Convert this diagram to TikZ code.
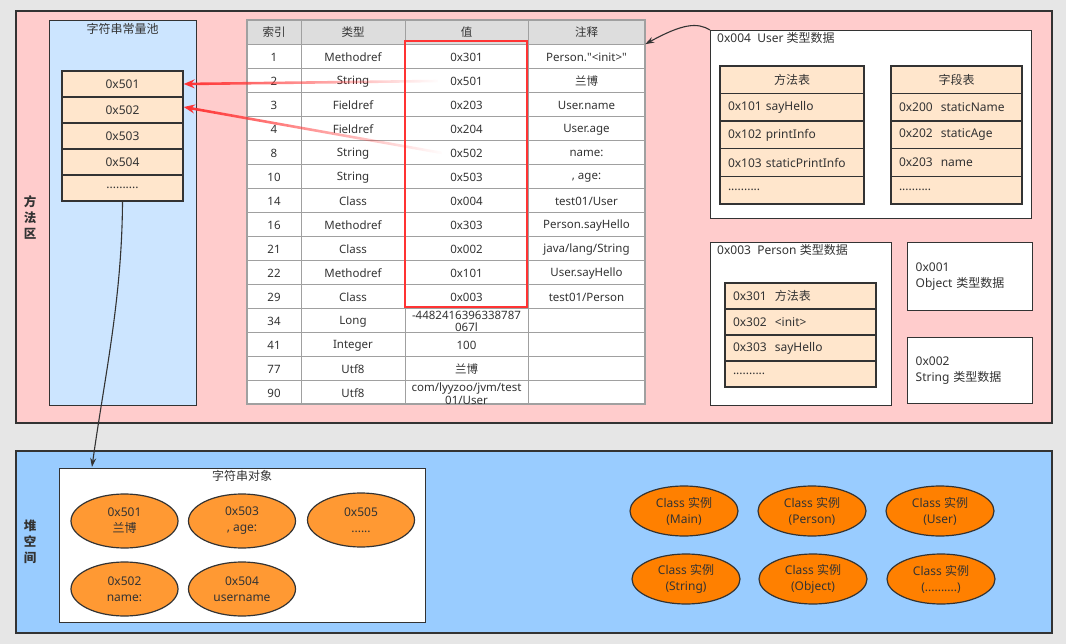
\documentclass[tikz,border=0pt]{standalone}
\usepackage{fontspec}
\setmainfont{Noto Sans}
\newfontfamily\cjkf{Noto Sans CJK SC}
\newcommand\zh[1]{{\cjkf #1}}
\usetikzlibrary{shapes.geometric,arrows.meta,fadings}
\definecolor{bgc}{HTML}{E6E6E6}
\definecolor{pinkc}{HTML}{FFCCCC}
\definecolor{poolc}{HTML}{CCE5FF}
\definecolor{cellc}{HTML}{FFE6CC}
\definecolor{heapc}{HTML}{99CCFF}
\definecolor{orA}{HTML}{FF9933}
\definecolor{orB}{HTML}{FF8000}
\definecolor{dk}{HTML}{333333}
\definecolor{txt}{HTML}{333333}
\definecolor{tgrid}{HTML}{A0A0A0}
\definecolor{thead}{HTML}{DDDDDD}
\definecolor{redc}{HTML}{FF3333}
\newcommand\trow[5]{%
  \node[tt] (t#1a) at (274,{33.5+24*#1}) {#2};
  \node[tt] (t#1b) at (353,{33.5+24*#1}) {#3};
  \node[tt] (t#1c) at (466.5,{33.5+24*#1}) {#4};
  \node[tt] (t#1d) at (586.5,{33.5+24*#1}) {#5};}
\tikzfading[name=redfade, left color=transparent!0, middle color=transparent!0, right color=transparent!100]
\begin{document}
\begin{tikzpicture}[x=1pt,y=-1pt,
  every node/.style={text=txt, inner sep=0pt},
  f12/.style={font=\fontsize{12}{16}\selectfont},
  region/.style={draw=dk, line width=1.6pt, anchor=north west},
  wbox/.style={draw=dk, line width=1.4pt, fill=white, anchor=north west},
  poolcell/.style={draw=dk, line width=1.4pt, fill=cellc, minimum width=121, minimum height=26, f12},
  lcell/.style={draw=dk, line width=1.4pt, fill=cellc, minimum height=27.6, inner xsep=8pt, align=left, f12},
  pcell/.style={draw=dk, line width=1.4pt, fill=cellc, minimum width=151, minimum height=26, inner xsep=8pt, text width=135, align=left, f12},
  tt/.style={font=\fontsize{11.5}{12.5}\selectfont, align=center},
  vlab/.style={align=center, font=\fontsize{12.5}{16}\selectfont\cjkf\bfseries},
  sobj/.style={ellipse, draw=dk, line width=1.2pt, fill=orA, minimum width=107, minimum height=54, align=center, f12},
  cobj/.style={ellipse, draw=dk, line width=1.2pt, fill=orB, minimum width=108, minimum height=50, align=center, f12},
  blk/.style={draw=dk, line width=1.1pt, -{Stealth[length=9pt,width=6pt]}},
  redarr/.style={draw=redc, line width=2.6pt, -{Stealth[length=11pt,width=9pt]}}
]
\fill[bgc] (0,0) rectangle (1066,644);
\useasboundingbox (0,0) rectangle (1066,644);

% ---------- method area ----------
\node[region, fill=pinkc, minimum width=1036, minimum height=412] (ma) at (15,10) {};
\node[vlab] (malab) at (30,217) {方\\法\\区};

% string pool
\node[region, fill=poolc, line width=1.4pt, minimum width=147, minimum height=385] (pool) at (49,20) {};
\node[f12] (pooltitle) at (122.5,29) {\zh{字符串常量池}};
\node[poolcell] (p1) at (122.5,84) {0x501};
\node[poolcell] (p2) at (122.5,110) {0x502};
\node[poolcell] (p3) at (122.5,136) {0x503};
\node[poolcell] (p4) at (122.5,162) {0x504};
\node[poolcell] (p5) at (122.5,188) {..........};

% constant table
\fill[white] (247,20) rectangle (645,404);
\fill[thead] (247,20) rectangle (645,44);
\foreach \k in {1,...,15} \draw[tgrid, line width=0.8pt] (247,{20+24*\k}) -- (645,{20+24*\k});
\foreach \xx in {301,405,528} \draw[tgrid, line width=0.8pt] (\xx,20) -- (\xx,404);
\draw[tgrid, line width=1.6pt] (247,20) rectangle (645,404);
\node[tt, minimum width=54, minimum height=24] (h1) at (274,32) {\zh{索引}};
\node[tt, minimum width=104, minimum height=24] (h2) at (353,32) {\zh{类型}};
\node[tt, minimum width=123, minimum height=24] (h3) at (466.5,32) {\zh{值}};
\node[tt, minimum width=117, minimum height=24] (h4) at (586.5,32) {\zh{注释}};
\trow{1}{1}{Methodref}{0x301}{Person.\textquotedbl<init>\textquotedbl}
\trow{2}{2}{String}{0x501}{\zh{兰博}}
\trow{3}{3}{Fieldref}{0x203}{User.name}
\trow{4}{4}{Fieldref}{0x204}{User.age}
\trow{5}{8}{String}{0x502}{name:}
\trow{6}{10}{String}{0x503}{, age:}
\trow{7}{14}{Class}{0x004}{test01/User}
\trow{8}{16}{Methodref}{0x303}{Person.sayHello}
\trow{9}{21}{Class}{0x002}{java/lang/String}
\trow{10}{22}{Methodref}{0x101}{User.sayHello}
\trow{11}{29}{Class}{0x003}{test01/Person}
\trow{12}{34}{Long}{-4482416396338787\\067l}{}
\trow{13}{41}{Integer}{100}{}
\trow{14}{77}{Utf8}{\zh{兰博}}{}
\trow{15}{90}{Utf8}{com/lyyzoo/jvm/test\\01/User}{}
\draw[redc, line width=2.6pt] (405,41) rectangle (527,307);

% User type data
\node[wbox, minimum width=321, minimum height=188] (user) at (710,30) {};
\node[f12, anchor=west] (usertitle) at (717,38) {0x004\ \ User \zh{类型数据}};
\node[lcell, minimum width=144, text width=128, align=center] (um0) at (792,79.8) {\zh{方法表}};
\node[lcell, minimum width=144, text width=128] (um1) at (792,107.4) {0x101 sayHello};
\node[lcell, minimum width=144, text width=128] (um2) at (792,135) {0x102 printInfo};
\node[lcell, minimum width=144, text width=128] (um3) at (792,162.6) {0x103 staticPrintInfo};
\node[lcell, minimum width=144, text width=128] (um4) at (792,190.2) {..........};
\node[lcell, minimum width=131, text width=115, align=center] (uf0) at (956.5,79.8) {\zh{字段表}};
\node[lcell, minimum width=131, text width=115] (uf1) at (956.5,107.4) {0x200\ \ staticName};
\node[lcell, minimum width=131, text width=115] (uf2) at (956.5,135) {0x202\ \ staticAge};
\node[lcell, minimum width=131, text width=115] (uf3) at (956.5,162.6) {0x203\ \ name};
\node[lcell, minimum width=131, text width=115] (uf4) at (956.5,190.2) {..........};

% Person type data
\node[wbox, minimum width=181, minimum height=163] (person) at (710,242) {};
\node[f12, anchor=west] (persontitle) at (717,250) {0x003\ \ Person \zh{类型数据}};
\node[pcell] (pm1) at (800.5,296) {0x301\ \ \zh{方法表}};
\node[pcell] (pm2) at (800.5,322) {0x302\ \ <init>};
\node[pcell] (pm3) at (800.5,348) {0x303\ \ sayHello};
\node[pcell] (pm4) at (800.5,374) {..........};

% Object / String type data
\node[wbox, minimum width=125, minimum height=68, inner xsep=8pt, text width=109, align=left, f12] (objbox) at (907,242) {0x001\\Object \zh{类型数据}};
\node[wbox, minimum width=125, minimum height=66, inner xsep=8pt, text width=109, align=left, f12] (strbox) at (907,337) {0x002\\String \zh{类型数据}};

% ---------- heap ----------
\node[region, fill=heapc, minimum width=1036, minimum height=182] (heap) at (15,450) {};
\node[vlab] (heaplab) at (30,542) {堆\\空\\间};
\node[wbox, minimum width=366, minimum height=154] (strobj) at (59,468) {};
\node[f12] (strobjtitle) at (242,476) {\zh{字符串对象}};
\node[sobj] (s501) at (124.5,521) {0x501\\\zh{兰博}};
\node[sobj] (s503) at (242,521) {0x503\\, age:};
\node[sobj] (s505) at (361,520) {0x505\\......};
\node[sobj] (s502) at (124.5,589) {0x502\\name:};
\node[sobj] (s504) at (242,589) {0x504\\username};

\node[cobj] (cMain) at (684,511) {Class \zh{实例}\\(Main)};
\node[cobj] (cPerson) at (812,511) {Class \zh{实例}\\(Person)};
\node[cobj] (cUser) at (940,511) {Class \zh{实例}\\(User)};
\node[cobj] (cString) at (686,579) {Class \zh{实例}\\(String)};
\node[cobj] (cObject) at (813,579) {Class \zh{实例}\\(Object)};
\node[cobj] (cDots) at (941,579) {Class \zh{实例}\\(..........)};

% ---------- connectors ----------
\coordinate (r2s) at (438,81);
\coordinate (r5s) at (442,153);
\coordinate (soin) at (92,467);
\draw[redarr, path fading=redfade] (r2s) -- (p1.east);
\draw[redarr, path fading=redfade] (r5s) -- ([yshift=3pt]p2.east);
\draw[blk] (user.north west) .. controls (697,22) and (682,24) .. (h4.south east);
\draw[blk] (p5.south) .. controls (122,300) and (104,380) .. (soin);
\end{tikzpicture}
\end{document}
